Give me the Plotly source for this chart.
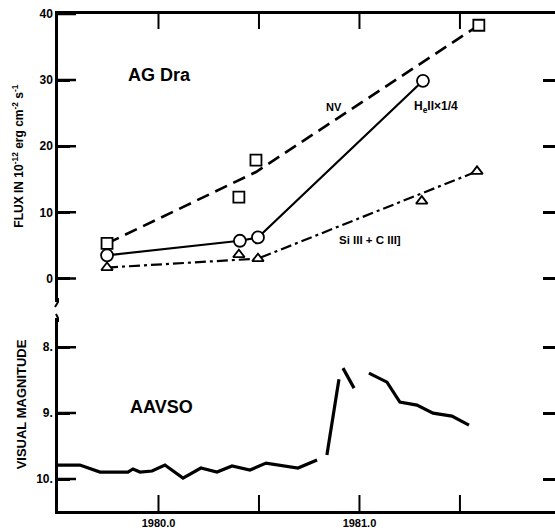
import plotly.graph_objects as go

# ---- data ----
nv_years = [1979.744, 1980.40, 1980.485, 1981.594]
nv_flux = [5.3, 12.3, 17.9, 38.3]
nv_fit_years = [1979.744, 1980.485, 1981.594]
nv_fit_flux = [5.3, 16.1, 38.3]

he_years = [1979.744, 1980.405, 1980.495, 1981.316]
he_flux = [3.5, 5.7, 6.2, 29.9]

si_years = [1979.744, 1980.40, 1980.495, 1981.31, 1981.585]
si_flux = [1.65, 3.6, 3.0, 11.7, 16.2]
si_fit_years = [1979.744, 1980.495, 1981.585]
si_fit_flux = [1.65, 3.0, 16.2]

aavso_years = [1979.500, 1979.609, 1979.709, 1979.848, 1979.873, 1979.908, 1979.968,
               1980.032, 1980.122, 1980.211, 1980.291, 1980.366, 1980.455, 1980.535,
               1980.694, 1980.789, None,
               1980.838, 1980.898, None,
               1980.918, 1980.973, None,
               1981.047, 1981.137, 1981.201, 1981.286, 1981.366, 1981.460, 1981.545]
aavso_mag = [9.788, 9.788, 9.894, 9.894, 9.848, 9.894, 9.879,
             9.788, 9.985, 9.833, 9.894, 9.803, 9.864, 9.758,
             9.833, 9.712, None,
             9.636, 8.485, None,
             8.318, 8.621, None,
             8.394, 8.530, 8.833, 8.879, 9.0, 9.045, 9.182]

x_ticks = [1980.0, 1980.5, 1981.0, 1981.5]
x_ticktext = ["1980.0", " ", "1981.0", " "]
flux_ticks = [0, 10, 20, 30, 40]
mag_ticks = [8, 9, 10]
mag_ticktext = ["8.", "9.", "10."]

FONT = "Liberation Sans"
BLACK = "#000000"

XR = [1979.5, 1981.973]
FR = [-3.6, 40]
MR = [10.485, 7.56]
top_dom = [0.42, 1.0]
bot_dom = [0.0, 0.388]
PLOT_W = 497
PLOT_H = 497

fig = go.Figure()

# NV
fig.add_trace(go.Scatter(x=nv_fit_years, y=nv_fit_flux, mode="lines",
                         line=dict(color=BLACK, width=2.6, dash="13px,7px"),
                         xaxis="x", yaxis="y", showlegend=False))
fig.add_trace(go.Scatter(x=nv_years, y=nv_flux, mode="markers",
                         marker=dict(symbol="square", size=11, color="white",
                                     line=dict(color=BLACK, width=1.8)),
                         xaxis="x", yaxis="y", showlegend=False))
# Si III + C III]
fig.add_trace(go.Scatter(x=si_fit_years, y=si_fit_flux, mode="lines",
                         line=dict(color=BLACK, width=2.2, dash="11px,4px,3px,4px"),
                         xaxis="x", yaxis="y", showlegend=False))
fig.add_trace(go.Scatter(x=si_years, y=si_flux, mode="markers",
                         marker=dict(symbol="triangle-up", size=10, color="white",
                                     line=dict(color=BLACK, width=1.8)),
                         xaxis="x", yaxis="y", showlegend=False))
# He II
fig.add_trace(go.Scatter(x=he_years, y=he_flux, mode="lines+markers",
                         line=dict(color=BLACK, width=2.2),
                         marker=dict(symbol="circle", size=12, color="white",
                                     line=dict(color=BLACK, width=1.8)),
                         xaxis="x", yaxis="y", showlegend=False))
# AAVSO
fig.add_trace(go.Scatter(x=aavso_years, y=aavso_mag, mode="lines",
                         line=dict(color=BLACK, width=3.2),
                         connectgaps=False,
                         xaxis="x2", yaxis="y2", showlegend=False))

# ---- tick marks drawn as line traces on the axes' own scales ----
yr_per_px = (XR[1] - XR[0]) / PLOT_W
flux_per_px = (FR[1] - FR[0]) / ((top_dom[1] - top_dom[0]) * PLOT_H)
mag_per_px = (MR[0] - MR[1]) / ((bot_dom[1] - bot_dom[0]) * PLOT_H)
LEFT_LEN, TOP_LEN, BOT_LEN = 18, 15, 16

def seg_trace(xs, ys, xa, ya, w):
    fig.add_trace(go.Scatter(x=xs, y=ys, mode="lines", line=dict(color=BLACK, width=w),
                             xaxis=xa, yaxis=ya, showlegend=False, hoverinfo="skip"))

lx, ly = [], []
for v in flux_ticks:
    lx += [XR[0], XR[0] + LEFT_LEN * yr_per_px, None]
    ly += [v, v, None]
seg_trace(lx, ly, "x", "y", 2.5)

lx, ly = [], []
for v in mag_ticks:
    lx += [XR[0], XR[0] + LEFT_LEN * yr_per_px, None]
    ly += [v, v, None]
seg_trace(lx, ly, "x2", "y2", 2.5)

tx, ty = [], []
for v in x_ticks:
    tx += [v, v, None]
    ty += [FR[1], FR[1] - TOP_LEN * flux_per_px, None]
seg_trace(tx, ty, "x", "y", 2)

bx, by = [], []
for v in x_ticks:
    bx += [v, v, None]
    by += [MR[0], MR[0] - BOT_LEN * mag_per_px, None]
seg_trace(bx, by, "x2", "y2", 2)

tickfont = dict(family=FONT, size=12, color=BLACK, weight="bold")

fig.update_layout(
    width=555, height=530,
    margin=dict(l=58, r=0, t=14, b=19, autoexpand=False),
    paper_bgcolor="white", plot_bgcolor="rgba(0,0,0,0)",
    xaxis=dict(domain=[0, 1], range=XR, anchor="y", side="top", automargin=False,
               showline=True, linecolor=BLACK, linewidth=2.5,
               tickmode="array", tickvals=x_ticks, ticks="", 
               showticklabels=False, showgrid=False, zeroline=False),
    yaxis=dict(domain=top_dom, range=FR, anchor="x", automargin=False,
               showline=True, linecolor=BLACK, linewidth=2.5, mirror="ticks",
               tickmode="array", tickvals=flux_ticks, ticks="inside", ticklen=12, tickwidth=2.5,
               tickcolor=BLACK, tickfont=tickfont, showgrid=False, zeroline=False),
    xaxis2=dict(domain=[0, 1], range=XR, anchor="y2", side="bottom", automargin=False,
                showline=True, linecolor=BLACK, linewidth=2.5,
                tickmode="array", tickvals=x_ticks, ticktext=x_ticktext, ticks="",
                tickfont=dict(family=FONT, size=11, color=BLACK, weight="bold"),
                showgrid=False, zeroline=False),
    yaxis2=dict(domain=bot_dom, range=MR, anchor="x2", automargin=False,
                showline=True, linecolor=BLACK, linewidth=2.5, mirror="ticks",
                tickmode="array", tickvals=mag_ticks, ticktext=mag_ticktext, ticks="inside", ticklen=12,
                tickwidth=2.5, tickcolor=BLACK, tickfont=tickfont,
                showgrid=False, zeroline=False),
)

def ann(text, x, y, size, xref="x", yref="y", angle=0):
    fig.add_annotation(text=text, x=x, y=y, xref=xref, yref=yref, showarrow=False,
                       textangle=angle, xanchor="center", yanchor="middle",
                       font=dict(family=FONT, size=size, color=BLACK, weight="bold"))

ann("AG Dra", 1980.007, 30.8, 18)
ann("NV", 1980.873, 25.9, 11)
ann("H<sub>e</sub>II×1/4", 1981.38, 25.9, 12)
ann("Si III + C III]", 1981.052, 5.86, 11.5)
ann("AAVSO", 1980.017, 8.91, 18, xref="x2", yref="y2")
ann("FLUX IN 10<sup>-12</sup> erg cm<sup>-2</sup> s<sup>-1</sup>", -0.0805, 0.715, 12,
    xref="paper", yref="paper", angle=-90)
ann("VISUAL MAGNITUDE", -0.074, 0.215, 13, xref="paper", yref="paper", angle=-90)

# axis break hooks (decoration)
def px(xp, yp):
    return (xp - 58) / PLOT_W, (511 - yp) / PLOT_H

a = px(58, 298); b = px(58, 302); c = px(55, 307)
fig.add_shape(type="path", xref="paper", yref="paper",
              path=f"M {a[0]} {a[1]} L {b[0]} {b[1]} L {c[0]} {c[1]}",
              line=dict(color=BLACK, width=2))
a = px(56, 314); b = px(58, 318); c = px(58, 322)
fig.add_shape(type="path", xref="paper", yref="paper",
              path=f"M {a[0]} {a[1]} L {b[0]} {b[1]} L {c[0]} {c[1]}",
              line=dict(color=BLACK, width=2))

fig.write_html("out.html", config={"displayModeBar": False},
               post_script="document.body.style.margin='0';document.body.style.overflow='hidden';")
